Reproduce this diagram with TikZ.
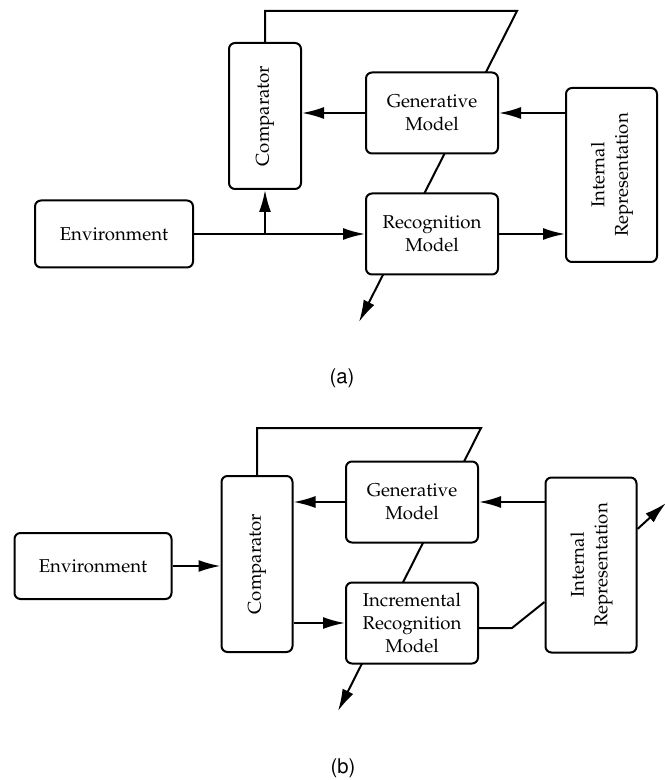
\documentclass[tikz,border=0pt]{standalone}
\usepackage[T1]{fontenc}
\usepackage{mathpazo}
\usepackage[scaled=0.92]{helvet}
\usepackage{graphicx}
\usetikzlibrary{arrows.meta,backgrounds,calc}

\tikzstyle{block} = [align=center, draw, fill=white, rectangle, rounded corners=3pt, line width=1pt, font=\fontsize{9.3}{11.7}\selectfont]
\tikzstyle{model} = [block, minimum width=66pt, minimum height=40.5pt]
\tikzstyle{wire} = [line width=1pt]
\tikzstyle{caption} = [font=\sffamily\fontsize{11}{13}\selectfont]

\begin{document}
\begin{tikzpicture}[x=0.5pt,y=-0.5pt,>={Latex[length=11pt,width=6pt]}]
            \useasboundingbox (0,0) rectangle (664,780);
            %
            % (a) We start by placing the blocks
            \node [block, minimum width=79pt, minimum height=33.5pt] (enva) at (114,234) {Environment};
            \node [block, minimum width=36pt, minimum height=73pt] (compa) at (265,116) {\rotatebox{90}{Comparator}};
            \node [model] (gena) at (432,113) {Generative\\Model};
            \node [model] (reca) at (432,234) {Recognition\\Model};
            \node [block, minimum width=45.5pt, minimum height=87pt] (ira) at (611.5,175)
                {\rotatebox{90}{\begin{tabular}{@{}c@{}}Internal\\Representation\end{tabular}}};
            % then the connections between them
            \draw [wire, ->] (gena.west) -- (gena.west -| compa.east);
            \draw [wire, ->] (ira.west |- gena.east) -- (gena.east);
            \draw [wire, ->] (enva.east) -- (reca.west);
            \draw [wire, ->] (enva.east -| compa.south) -- (compa.south);
            \draw [wire, ->] (reca.east) -- (reca.east -| ira.west);
            % the feedback line runs behind both models
            \coordinate (topa) at (517,11);
            \coordinate (outa) at (359,322);
            \begin{pgfonlayer}{background}
                \draw [wire, ->] (compa.north) |- (topa) -- (outa);
            \end{pgfonlayer}
            \node [caption] (capa) at (342,378) {(a)};
            %
            % (b) Same blocks, incremental version
            \node [block, minimum width=78.5pt, minimum height=33pt] (envb) at (93,566) {Environment};
            \node [block, minimum width=35.5pt, minimum height=88pt] (compb) at (257,564) {\rotatebox{90}{Comparator}};
            \node [model] (genb) at (412,502) {Generative\\Model};
            \node [model] (irmb) at (412,623) {Incremental\\Recognition\\Model};
            \node [block, minimum width=45.5pt, minimum height=87.5pt] (irb) at (591,565)
                {\rotatebox{90}{\begin{tabular}{@{}c@{}}Internal\\Representation\end{tabular}}};
            % connections
            \draw [wire, ->] (envb.east) -- (envb.east -| compb.west);
            \draw [wire, ->] (genb.west) -- (genb.west -| compb.east);
            \draw [wire, ->] (irb.west |- genb.east) -- (genb.east);
            \draw [wire, ->] (compb.east |- irmb.west) -- (irmb.west);
            \coordinate (kinkb) at (512,628);
            \draw [wire] (irmb.east |- kinkb) -- (kinkb) -- ($(irb.west)+(0,37)$);
            \coordinate (outr) at (666,503);
            \draw [wire, ->] ($(irb.east)+(0,-36)$) -- (outr);
            \coordinate (topb) at (481,428);
            \coordinate (outb) at (338,711);
            \begin{pgfonlayer}{background}
                \draw [wire, ->] (compb.north) |- (topb) -- (outb);
            \end{pgfonlayer}
            \node [caption] (capb) at (343,768) {(b)};
            %
        \end{tikzpicture}
\end{document}
